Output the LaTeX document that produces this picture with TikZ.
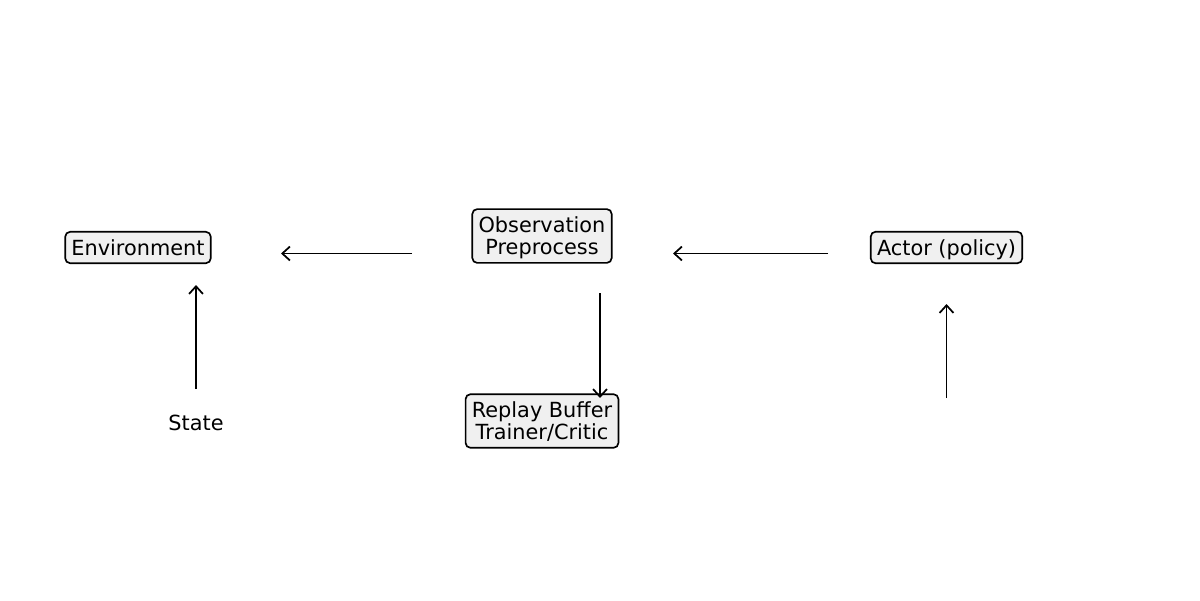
\documentclass[tikz,border=0pt]{standalone}
\usepackage{fontspec}
\setmainfont{DejaVu Sans}
\usetikzlibrary{arrows.meta}
\newcommand{\mystrut}{\rule[-3pt]{0pt}{17pt}}
\newcommand{\topstrut}{\rule{0pt}{14pt}}
\newcommand{\botstrut}{\rule[-3pt]{0pt}{3pt}}
\begin{document}
\begin{tikzpicture}[x=0.72pt,y=-0.72pt,
  box/.style={draw=black, fill=black!6, rounded corners=3.5pt, line width=1.2pt,
    inner xsep=4.5pt, inner ysep=2.8pt, align=center,
    font=\fontsize{15}{16}\selectfont},
  lbl/.style={font=\fontsize{15}{16}\selectfont, inner sep=0pt},
  conn/.style={line width=1.25pt, -{Straight Barb[length=5.5pt,width=10pt,line width=1.25pt]}}]
\useasboundingbox (0,0) rectangle (1200,600);
\node[box] (env) at (138,247.5) {\mystrut Environment};
\node[box] (obs) at (542,236) {\topstrut Observation\\Preprocess\botstrut};
\node[box] (rb) at (542,421) {\topstrut Replay Buffer\\Trainer/Critic\botstrut};
\node[box] (act) at (946.5,247.5) {\mystrut Actor (policy)};
\node[lbl] (state) at (196,423) {\mystrut State};
\coordinate (a1s) at (412,253.5); \coordinate (a1e) at (281,253.5);
\coordinate (a2s) at (828,253.5); \coordinate (a2e) at (673,253.5);
\coordinate (a3s) at (600,293); \coordinate (a3e) at (600,398);
\coordinate (a4s) at (196,389); \coordinate (a4e) at (196,285);
\coordinate (a5s) at (946.5,398); \coordinate (a5e) at (946.5,304);
\draw[conn] (a1s) -- (a1e);
\draw[conn] (a2s) -- (a2e);
\draw[conn] (a3s) -- (a3e);
\draw[conn] (a4s) -- (a4e);
\draw[conn] (a5s) -- (a5e);
\end{tikzpicture}
\end{document}
